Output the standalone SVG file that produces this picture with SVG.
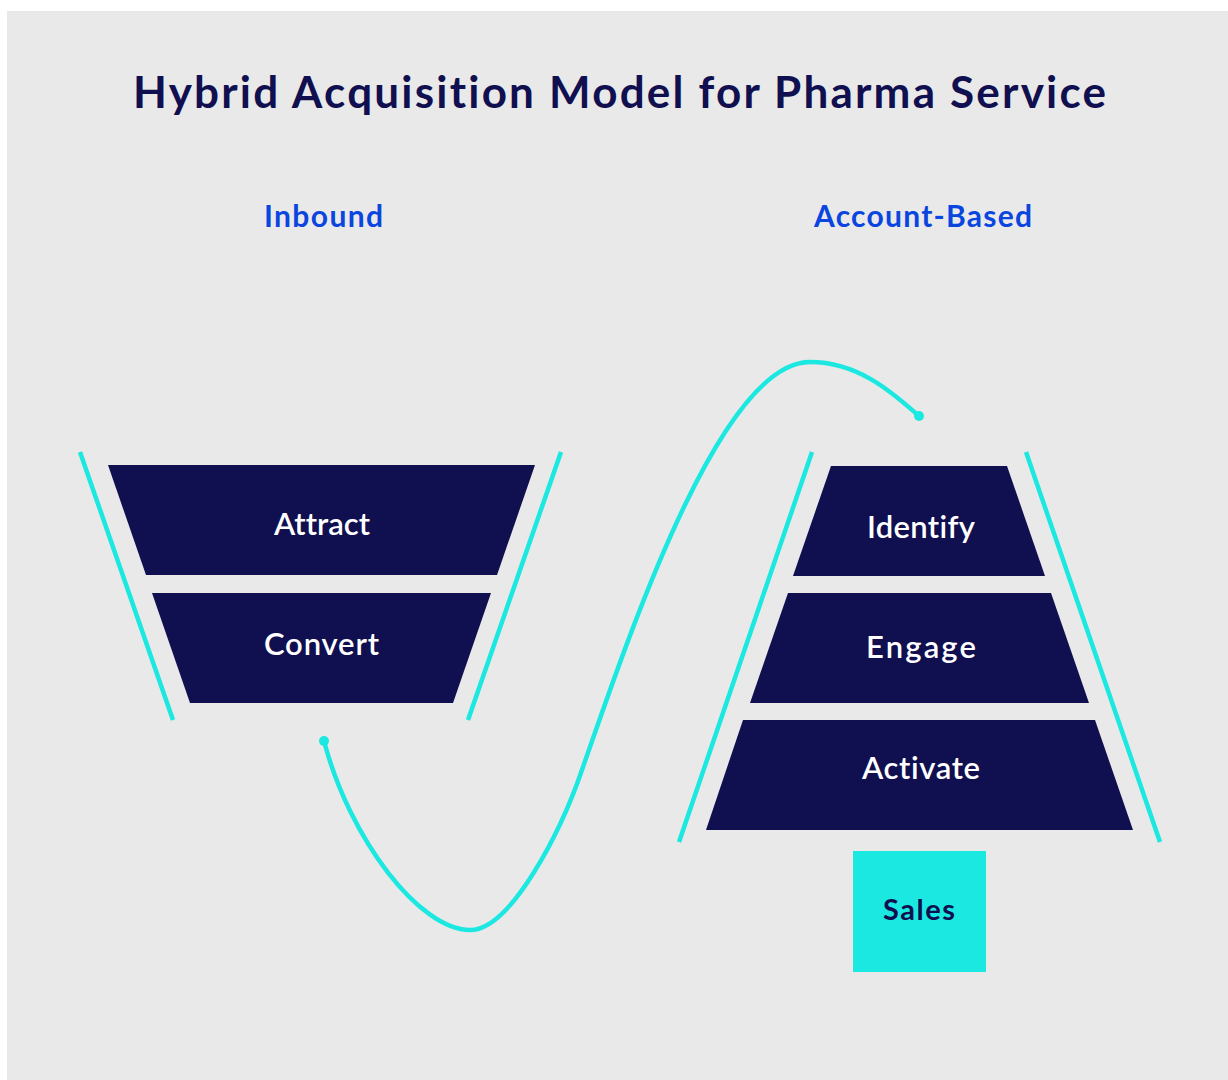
<svg xmlns="http://www.w3.org/2000/svg" width="1228" height="1080" viewBox="0 0 1228 1080">
<style>
text{font-family:Lato,"Open Sans",sans-serif;font-variant-ligatures:none;text-anchor:middle}
.stage{fill:#100f50}
.lbl{font-size:31px;font-weight:600;fill:#ffffff}
.head{font-weight:bold;font-size:30px;fill:#0a45e0}
.rail{stroke:#1be8e0;stroke-width:4.5;fill:none}
</style>
<rect x="0" y="0" width="1228" height="1080" fill="#ffffff"/>
<rect x="7" y="11" width="1221" height="1069" fill="#e9e9e9"/>
<text x="619.5" y="108" font-weight="bold" font-size="44" fill="#100f50" textLength="973">Hybrid Acquisition Model for Pharma Service</text>
<text class="head" x="323.5" y="227" textLength="119">Inbound</text>
<text class="head" x="923" y="227" textLength="218">Account-Based</text>
<g id="connectors">
<line class="rail" x1="80" y1="452" x2="173" y2="720"/>
<line class="rail" x1="561" y1="452" x2="468" y2="720"/>
<line class="rail" x1="812" y1="452" x2="679" y2="842"/>
<line class="rail" x1="1026" y1="452" x2="1160" y2="842"/>
<path class="rail" d="M324,741 C350,840 420,930 470,930 C510,930 560,835 583,767 C628.5,637 720,362 810,362 C860,362 895,395 919,416"/>
<circle cx="324" cy="741" r="5" fill="#1be8e0"/>
<circle cx="919" cy="416" r="5" fill="#1be8e0"/>
</g>
<g id="attract"><polygon class="stage" points="108,465 535,465 497,575 146,575"/><text class="lbl" x="322" y="535" textLength="96">Attract</text></g>
<g id="convert"><polygon class="stage" points="152,593 491,593 453,703 190,703"/><text class="lbl" x="321.5" y="655" textLength="115">Convert</text></g>
<g id="identify"><polygon class="stage" points="831,466 1007,466 1045,576 793,576"/><text class="lbl" x="921" y="538" textLength="108">Identify</text></g>
<g id="engage"><polygon class="stage" points="788,593 1051,593 1089,703 750,703"/><text class="lbl" x="921" y="658" textLength="110">Engage</text></g>
<g id="activate"><polygon class="stage" points="743,720 1095,720 1133,830 706,830"/><text class="lbl" x="921" y="779" textLength="118">Activate</text></g>
<g id="sales"><rect x="853" y="851" width="133" height="121" fill="#1be8e0"/><text x="919" y="920" font-weight="bold" font-size="29" fill="#100f50" textLength="72">Sales</text></g>
</svg>
